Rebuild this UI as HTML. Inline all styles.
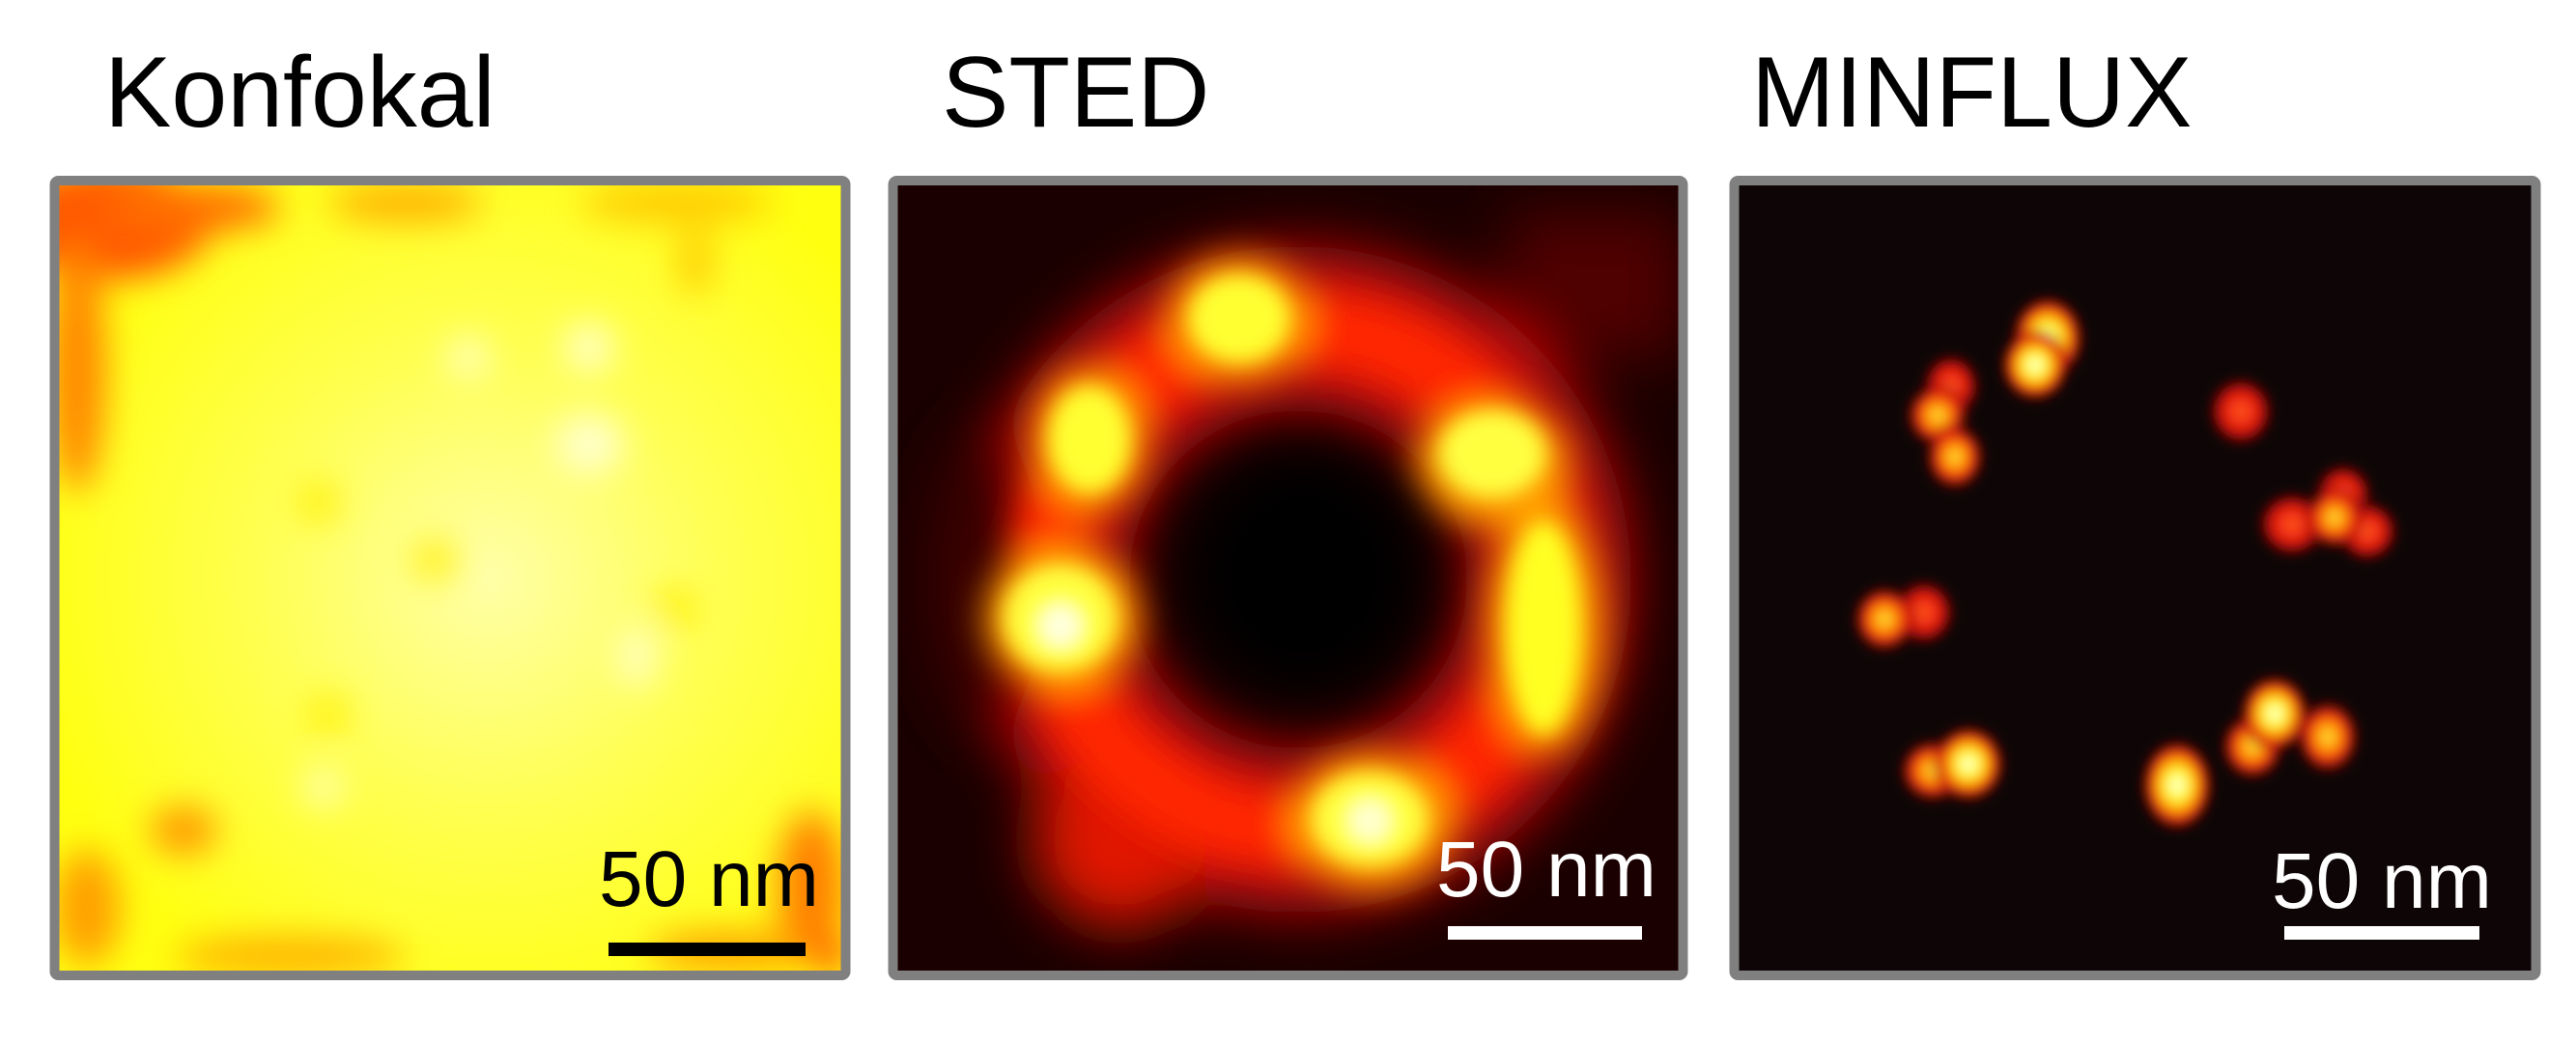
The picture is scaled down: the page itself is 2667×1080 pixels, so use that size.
<!DOCTYPE html>
<html><head><meta charset="utf-8"><style>
html,body{margin:0;padding:0;background:#fff;width:2667px;height:1080px;overflow:hidden}
svg{display:block}
text{font-family:"Liberation Sans",Arial,sans-serif}
</style></head><body>
<svg width="2667" height="1080" viewBox="0 0 2667 1080" xmlns="http://www.w3.org/2000/svg">
<defs>
<filter id="b30" x="-50%" y="-50%" width="200%" height="200%"><feGaussianBlur stdDeviation="30"/></filter>
<filter id="b18" x="-50%" y="-50%" width="200%" height="200%"><feGaussianBlur stdDeviation="18"/></filter>
<filter id="b10" x="-50%" y="-50%" width="200%" height="200%"><feGaussianBlur stdDeviation="10"/></filter>
<filter id="b6" x="-80%" y="-80%" width="260%" height="260%"><feGaussianBlur stdDeviation="6"/></filter>
<clipPath id="c1"><rect x="61" y="192" width="810" height="813"/></clipPath>
<clipPath id="c2"><rect x="929" y="192" width="809" height="813"/></clipPath>
<clipPath id="c3"><rect x="1800" y="192" width="821" height="813"/></clipPath>
<radialGradient id="hot"><stop offset="0" stop-color="#ffffff"/><stop offset="0.3" stop-color="#ffff30"/><stop offset="0.55" stop-color="#ff9a00"/><stop offset="0.78" stop-color="#e01010"/><stop offset="1" stop-color="#300404" stop-opacity="0"/></radialGradient>
<radialGradient id="warm"><stop offset="0" stop-color="#ffee40"/><stop offset="0.35" stop-color="#ff9000"/><stop offset="0.65" stop-color="#ee1a10"/><stop offset="1" stop-color="#300404" stop-opacity="0"/></radialGradient>
<radialGradient id="red"><stop offset="0" stop-color="#ff6020"/><stop offset="0.45" stop-color="#ee2010"/><stop offset="0.75" stop-color="#a00808"/><stop offset="1" stop-color="#300404" stop-opacity="0"/></radialGradient>
<radialGradient id="kc" cx="0.55" cy="0.5" r="0.6"><stop offset="0" stop-color="#ffffa8"/><stop offset="0.5" stop-color="#ffff50"/><stop offset="1" stop-color="#ffff10"/></radialGradient>
</defs>

<text x="108" y="131" font-size="104">Konfokal</text>
<text x="975" y="131" font-size="104">STED</text>
<text x="1813" y="131" font-size="104">MINFLUX</text>

<!-- Panel 1 Konfokal -->
<g clip-path="url(#c1)">
<rect x="61" y="192" width="810" height="813" fill="url(#kc)"/>
<g filter="url(#b18)">
<ellipse cx="110" cy="230" rx="110" ry="60" fill="#ff5a00"/>
<ellipse cx="80" cy="380" rx="30" ry="130" fill="#ff8800"/>
<ellipse cx="200" cy="215" rx="90" ry="25" fill="#ff7000"/>
<ellipse cx="420" cy="210" rx="80" ry="20" fill="#ffb000"/>
<ellipse cx="700" cy="210" rx="100" ry="20" fill="#ffc800"/>
<ellipse cx="720" cy="270" rx="18" ry="35" fill="#ffcc00"/>
<ellipse cx="190" cy="860" rx="35" ry="25" fill="#ff9800"/>
<ellipse cx="90" cy="940" rx="35" ry="60" fill="#ffa000"/>
<ellipse cx="300" cy="990" rx="120" ry="20" fill="#ffb000"/>
<ellipse cx="840" cy="920" rx="35" ry="80" fill="#ff8000"/>
<ellipse cx="760" cy="985" rx="90" ry="20" fill="#ffa000"/>
<ellipse cx="860" cy="990" rx="18" ry="18" fill="#ff4000"/>
<ellipse cx="330" cy="520" rx="20" ry="20" fill="#ffee00"/>
<ellipse cx="450" cy="580" rx="20" ry="20" fill="#ffee00"/>
<ellipse cx="340" cy="740" rx="20" ry="20" fill="#ffee00"/>
<ellipse cx="700" cy="630" rx="20" ry="20" fill="#ffee00"/>
<ellipse cx="610" cy="360" rx="25" ry="25" fill="#ffffd0"/>
<ellipse cx="485" cy="370" rx="20" ry="20" fill="#ffffd0"/>
<ellipse cx="610" cy="460" rx="35" ry="30" fill="#ffffd0"/>
<ellipse cx="660" cy="680" rx="15" ry="30" fill="#ffffe0"/>
<ellipse cx="335" cy="815" rx="18" ry="18" fill="#ffffd0"/>
</g>
</g>
<rect x="56.5" y="187" width="819" height="823" rx="4" fill="none" stroke="#808080" stroke-width="10"/>
<text x="620" y="938" font-size="82" fill="#000">50 nm</text>
<rect x="630" y="976" width="204" height="14" fill="#000"/>

<!-- Panel 2 STED -->
<g clip-path="url(#c2)">
<rect x="929" y="192" width="809" height="813" fill="#1a0000"/>
<g filter="url(#b30)">
<rect x="1560" y="220" width="180" height="150" fill="#500000"/>
<circle cx="1344" cy="600" r="260" fill="none" stroke="#c00808" stroke-width="170"/>
<ellipse cx="1160" cy="870" rx="90" ry="90" fill="#e01800"/>
<ellipse cx="1020" cy="600" rx="60" ry="160" fill="#3a0000"/>
</g>
<g filter="url(#b18)">
<circle cx="1344" cy="600" r="260" fill="none" stroke="#ff2800" stroke-width="80"/>
<ellipse cx="1283" cy="331" rx="75" ry="65" fill="#ff9a00"/>
<ellipse cx="1128" cy="455" rx="60" ry="75" fill="#ff9a00"/>
<ellipse cx="1100" cy="640" rx="80" ry="75" fill="#ffa000"/>
<ellipse cx="1545" cy="480" rx="80" ry="65" fill="#ffa000"/>
<ellipse cx="1600" cy="650" rx="60" ry="130" fill="#ffa000"/>
<ellipse cx="1420" cy="850" rx="85" ry="70" fill="#ffa000"/>
</g>
<g filter="url(#b10)">
<ellipse cx="1283" cy="330" rx="52" ry="45" fill="#ffff30"/>
<ellipse cx="1128" cy="455" rx="42" ry="55" fill="#ffff30"/>
<ellipse cx="1098" cy="640" rx="58" ry="55" fill="#ffff40"/>
<ellipse cx="1098" cy="648" rx="22" ry="22" fill="#ffffe0"/>
<ellipse cx="1545" cy="470" rx="55" ry="45" fill="#ffff40"/>
<ellipse cx="1598" cy="650" rx="38" ry="110" fill="#ffff20"/>
<ellipse cx="1418" cy="848" rx="60" ry="48" fill="#ffff40"/>
<ellipse cx="1418" cy="850" rx="22" ry="22" fill="#ffffd0"/>
</g>
<ellipse cx="1350" cy="595" rx="125" ry="130" fill="#000" filter="url(#b30)"/>
</g>
<rect x="924.5" y="187" width="818" height="823" rx="4" fill="none" stroke="#808080" stroke-width="10"/>
<text x="1487" y="928" font-size="82" fill="#fff">50 nm</text>
<rect x="1499" y="959" width="201" height="14" fill="#fff"/>

<!-- Panel 3 MINFLUX -->
<g clip-path="url(#c3)">
<rect x="1800" y="192" width="821" height="813" fill="#0e0606"/>
<g filter="url(#b6)">
<ellipse cx="2020" cy="400" rx="30" ry="34" fill="url(#red)"/>
<ellipse cx="2006" cy="430" rx="34" ry="34" fill="url(#warm)"/>
<ellipse cx="2024" cy="473" rx="32" ry="36" fill="url(#warm)"/>
<ellipse cx="2120" cy="350" rx="38" ry="44" fill="url(#hot)"/>
<ellipse cx="2107" cy="378" rx="36" ry="38" fill="url(#hot)"/>
<ellipse cx="2320" cy="426" rx="34" ry="36" fill="url(#red)"/>
<ellipse cx="2426" cy="512" rx="30" ry="32" fill="url(#red)"/>
<ellipse cx="2373" cy="543" rx="36" ry="34" fill="url(#red)"/>
<ellipse cx="2451" cy="550" rx="32" ry="32" fill="url(#red)"/>
<ellipse cx="2417" cy="536" rx="32" ry="34" fill="url(#warm)"/>
<ellipse cx="1992" cy="634" rx="32" ry="34" fill="url(#red)"/>
<ellipse cx="1951" cy="641" rx="34" ry="36" fill="url(#warm)"/>
<ellipse cx="2001" cy="798" rx="36" ry="34" fill="url(#warm)"/>
<ellipse cx="2038" cy="791" rx="38" ry="40" fill="url(#hot)"/>
<ellipse cx="2254" cy="813" rx="38" ry="48" fill="url(#hot)"/>
<ellipse cx="2332" cy="773" rx="34" ry="36" fill="url(#warm)"/>
<ellipse cx="2355" cy="739" rx="36" ry="40" fill="url(#hot)"/>
<ellipse cx="2410" cy="763" rx="34" ry="40" fill="url(#warm)"/>
</g>
</g>
<rect x="1795.5" y="187" width="830" height="823" rx="4" fill="none" stroke="#808080" stroke-width="10"/>
<text x="2352" y="940" font-size="82" fill="#fff">50 nm</text>
<rect x="2365" y="959" width="202" height="14" fill="#fff"/>
</svg>
</body></html>
